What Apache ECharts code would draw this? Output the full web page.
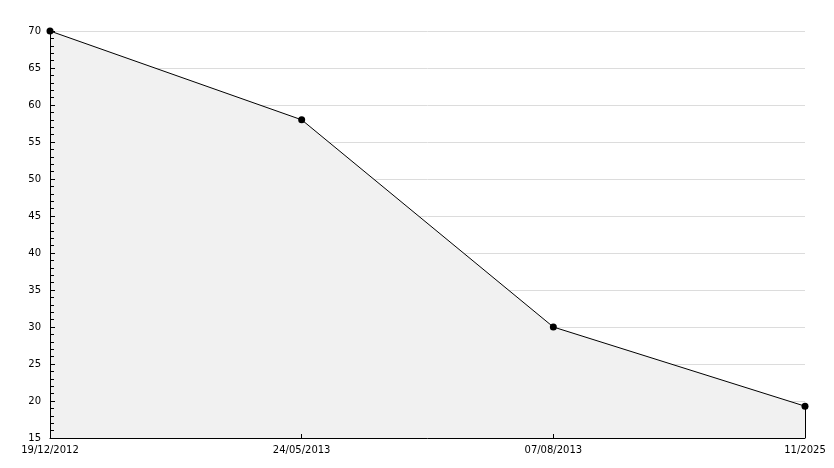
<!DOCTYPE html>
<html>
<head>
<meta charset="utf-8">
<script src="https://cdn.jsdelivr.net/npm/echarts@6/dist/echarts.min.js"></script>
<style>
  html, body { margin: 0; padding: 0; background: #fff; }
  #chart { width: 834px; height: 468px; }
</style>
</head>
<body>
<div id="chart"></div>
<script>
// data
const dates = ['19/12/2012', '24/05/2013', '07/08/2013', '11/2025'];
const values = [70, 58, 30, 19.3];
const yMin = 15, yMax = 70, yStep = 5;

const myChart = echarts.init(document.getElementById('chart'));

// gridlines sit under the area, axis line + ticks on top of it
myChart.setOption({
  animation: false,
  textStyle: { fontFamily: 'DejaVu Sans' },
  grid: { left: 50, right: 29, top: 31, bottom: 30 },
  xAxis: [{
    type: 'category',
    data: dates,
    boundaryGap: false,
    axisLine: { show: false },
    axisTick: { show: false },
    axisLabel: { show: false },
    splitLine: { show: false }
  }, {
    type: 'category',
    position: 'bottom',
    data: dates,
    boundaryGap: false,
    z: 10,
    axisLine: { lineStyle: { color: '#000', width: 1 } },
    axisTick: { inside: true, length: 4, lineStyle: { color: '#000' } },
    axisLabel: { color: '#000', fontSize: 10, margin: 7, interval: 0 },
    splitLine: { show: false }
  }],
  yAxis: [{
    type: 'value',
    min: yMin,
    max: yMax,
    interval: yStep,
    axisLine: { show: false },
    axisTick: { show: false },
    axisLabel: { show: false },
    splitLine: { show: true, lineStyle: { color: '#dcdcdc', width: 1 } }
  }, {
    type: 'value',
    position: 'left',
    min: yMin,
    max: yMax,
    interval: yStep,
    z: 10,
    axisLine: { show: true, lineStyle: { color: '#000', width: 1 } },
    axisTick: { show: true, inside: true, length: 5, lineStyle: { color: '#000' } },
    minorTick: { show: true, splitNumber: 5, length: 4, lineStyle: { color: '#000' } },
    axisLabel: { color: '#000', fontSize: 10, margin: 9 },
    splitLine: { show: false }
  }],
  series: [{
    type: 'line',
    xAxisIndex: 0,
    yAxisIndex: 0,
    data: values,
    symbol: 'circle',
    symbolSize: 7,
    itemStyle: { color: '#000' },
    lineStyle: { color: '#000', width: 1 },
    areaStyle: { color: '#f1f1f1', opacity: 1, origin: 'start' },
    markLine: {
      silent: true,
      symbol: 'none',
      label: { show: false },
      lineStyle: { color: '#000', width: 1, type: 'solid' },
      data: [[
        { coord: [dates.length - 1, values[values.length - 1]] },
        { coord: [dates.length - 1, yMin] }
      ]]
    }
  }]
});
</script>
</body>
</html>
